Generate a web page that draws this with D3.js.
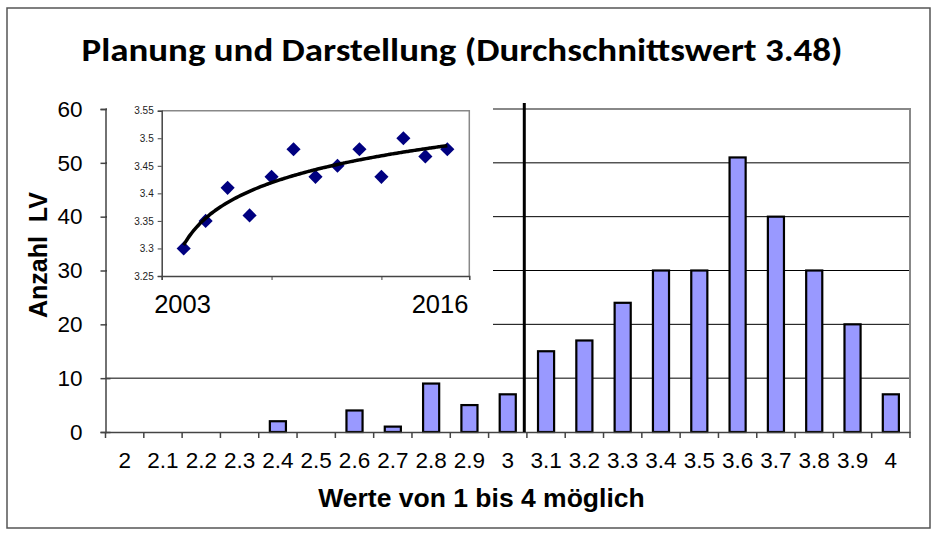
<!DOCTYPE html>
<html>
<head>
<meta charset="utf-8">
<style>
  body { margin: 0; background: #fff; }
  svg { display: block; font-family: "Liberation Sans", Arial, sans-serif; }
  .title { font-family: Carlito, Lato, "Open Sans", sans-serif; font-weight: 900; }
</style>
</head>
<body>
<svg width="933" height="535"></svg>
<script src="https://d3js.org/d3.v7.min.js"></script>
<script>
// histogram: Anzahl LV per Durchschnittswert
const categories = ["2", "2.1", "2.2", "2.3", "2.4", "2.5", "2.6", "2.7", "2.8", "2.9", "3",
                    "3.1", "3.2", "3.3", "3.4", "3.5", "3.6", "3.7", "3.8", "3.9", "4"]
const counts = [0, 0, 0, 0, 2, 0, 4, 1, 9, 5, 7, 15, 17, 24, 30, 30, 51, 40, 30, 20, 7]
const yTicks = [0, 10, 20, 30, 40, 50, 60]

// inset: yearly average, 2003 .. 2016
const insetX = [1, 2, 3, 4, 5, 6, 7, 8, 9, 10, 11, 12, 13]
const insetY = [3.30, 3.35, 3.41, 3.36, 3.43, 3.48, 3.43, 3.45, 3.48, 3.43, 3.50, 3.467, 3.48]
const insetYTicks = [3.25, 3.3, 3.35, 3.4, 3.45, 3.5, 3.55]
const insetXTicks = [0, 5, 10]
const insetYears = ["2003", "2016"]

const svg = d3.select("svg")

// outer frame
svg.append("rect")
  .attr("x", 7).attr("y", 8).attr("width", 923).attr("height", 520)
  .attr("fill", "#fff").attr("stroke", "#555").attr("stroke-width", 1.5)

svg.append("text")
  .attr("class", "title")
  .attr("x", 462).attr("y", 61)
  .attr("text-anchor", "middle")
  .attr("font-size", 32)
  .attr("textLength", 761).attr("lengthAdjust", "spacingAndGlyphs")
  .text("Planung und Darstellung (Durchschnittswert 3.48)")

// main plot
const pLeft = 105.5, pRight = 910, pTop = 109, pBottom = 432

const x = d3.scaleBand().domain(categories).range([pLeft, pRight])
  .paddingInner(0.58).paddingOuter(0.29)
const xEdge = d3.scaleBand().domain(categories).range([pLeft, pRight])
const y = d3.scaleLinear().domain([0, 60]).range([pBottom, pTop])

// gridlines
svg.append("g").selectAll("line")
  .data(yTicks.filter(d => d > 0 && d < 60))
  .join("line")
  .attr("x1", pLeft).attr("x2", pRight)
  .attr("y1", d => y(d)).attr("y2", d => y(d))
  .attr("stroke", "#000").attr("stroke-width", 1)

// plot frame top/right
svg.append("path")
  .attr("d", `M${pLeft},${pTop}H${pRight}V${pBottom}`)
  .attr("fill", "none").attr("stroke", "#888").attr("stroke-width", 2)

// bars
svg.append("g").selectAll("rect")
  .data(counts.map((v, i) => ({ c: categories[i], v })).filter(d => d.v > 0))
  .join("rect")
  .attr("x", d => x(d.c))
  .attr("y", d => y(d.v))
  .attr("width", x.bandwidth())
  .attr("height", d => y(0) - y(d.v))
  .attr("fill", "#9999ff").attr("stroke", "#000").attr("stroke-width", 2.2)

// x axis
const xAxis = svg.append("g")
  .attr("transform", `translate(0,${pBottom})`)
  .call(d3.axisBottom(x).tickSize(0).tickPadding(20))
xAxis.select(".domain").attr("stroke", "#444").attr("stroke-width", 1.5)
xAxis.selectAll("text").attr("font-size", 22.5).attr("fill", "#000")
  .attr("font-family", "Liberation Sans, Arial, sans-serif")

svg.append("g").selectAll("line")
  .data(categories.map(c => xEdge(c)).concat([pRight]))
  .join("line")
  .attr("x1", d => d).attr("x2", d => d)
  .attr("y1", pBottom).attr("y2", pBottom + 6)
  .attr("stroke", "#444").attr("stroke-width", 1.5)

svg.append("text")
  .attr("x", 481.5).attr("y", 507)
  .attr("text-anchor", "middle")
  .attr("font-size", 26.5).attr("font-weight", "bold")
  .text("Werte von 1 bis 4 möglich")

// y axis
const yAxis = svg.append("g")
  .attr("transform", `translate(${pLeft},0)`)
  .call(d3.axisLeft(y).tickValues(yTicks).tickSize(5).tickPadding(18))
yAxis.select(".domain").attr("stroke", "#444").attr("stroke-width", 1.5)
yAxis.selectAll(".tick line").attr("x1", 5).attr("stroke", "#444").attr("stroke-width", 1.5)
yAxis.selectAll("text").attr("font-size", 22.5).attr("fill", "#000")
  .attr("font-family", "Liberation Sans, Arial, sans-serif")

svg.append("text")
  .attr("transform", "translate(47,255) rotate(-90)")
  .attr("text-anchor", "middle")
  .attr("font-size", 25).attr("font-weight", "bold")
  .style("white-space", "pre")
  .text("Anzahl  LV")

// mean marker line
const meanX = x("3") + x.bandwidth() + 8.5
svg.append("line")
  .attr("x1", meanX).attr("x2", meanX)
  .attr("y1", 103).attr("y2", pBottom)
  .attr("stroke", "#000").attr("stroke-width", 3)

// ---- inset chart ----
svg.append("rect")
  .attr("x", 107).attr("y", 96).attr("width", 386).attr("height", 234)
  .attr("fill", "#fff")

const iL = 161.7, iR = 469.3, iT = 110.7, iB = 276
const xs = d3.scaleLinear().domain([0, 14]).range([iL, iR])
const ys = d3.scaleLinear().domain([3.25, 3.55]).range([iB, iT])

svg.append("path")
  .attr("d", `M${iL},${iT}H${iR}V${iB}`)
  .attr("fill", "none").attr("stroke", "#888").attr("stroke-width", 1.5)

const iyAxis = svg.append("g")
  .attr("transform", `translate(${iL},0)`)
  .call(d3.axisLeft(ys).tickValues(insetYTicks).tickSize(4).tickPadding(4)
    .tickFormat(d => String(+d.toFixed(2))))
iyAxis.select(".domain").attr("stroke", "#444").attr("stroke-width", 1.5)
iyAxis.selectAll(".tick line").attr("stroke", "#444")
iyAxis.selectAll("text").attr("font-size", 10).attr("fill", "#222")
  .attr("font-family", "Liberation Sans, Arial, sans-serif")

const ixAxis = svg.append("g")
  .attr("transform", `translate(0,${iB})`)
  .call(d3.axisBottom(xs).tickValues(insetXTicks).tickSize(4).tickFormat(""))
ixAxis.select(".domain").attr("stroke", "#444").attr("stroke-width", 1.5)
ixAxis.selectAll(".tick line").attr("stroke", "#444")

svg.append("text").attr("x", 182.5).attr("y", 313)
  .attr("text-anchor", "middle").attr("font-size", 25.5).text(insetYears[0])
svg.append("text").attr("x", 440).attr("y", 313)
  .attr("text-anchor", "middle").attr("font-size", 25.5).text(insetYears[1])

// logarithmic trendline (least squares on ln x)
const lx = insetX.map(Math.log)
const mx = d3.mean(lx), my = d3.mean(insetY)
const b = d3.sum(lx, (v, i) => (v - mx) * (insetY[i] - my)) / d3.sum(lx, v => (v - mx) ** 2)
const a = my - b * mx
const trendX = d3.range(1, 13.01, 0.1)

svg.append("g").selectAll("path")
  .data(insetX.map((v, i) => [v, insetY[i]]))
  .join("path")
  .attr("d", d3.symbol(d3.symbolSquare, 100))
  .attr("transform", d => `translate(${xs(d[0])},${ys(d[1])}) rotate(45)`)
  .attr("fill", "#000080")

svg.append("path")
  .datum(trendX)
  .attr("d", d3.line().x(d => xs(d)).y(d => ys(a + b * Math.log(d))).curve(d3.curveBasis))
  .attr("fill", "none").attr("stroke", "#000").attr("stroke-width", 3.5)
</script>
</body>
</html>
